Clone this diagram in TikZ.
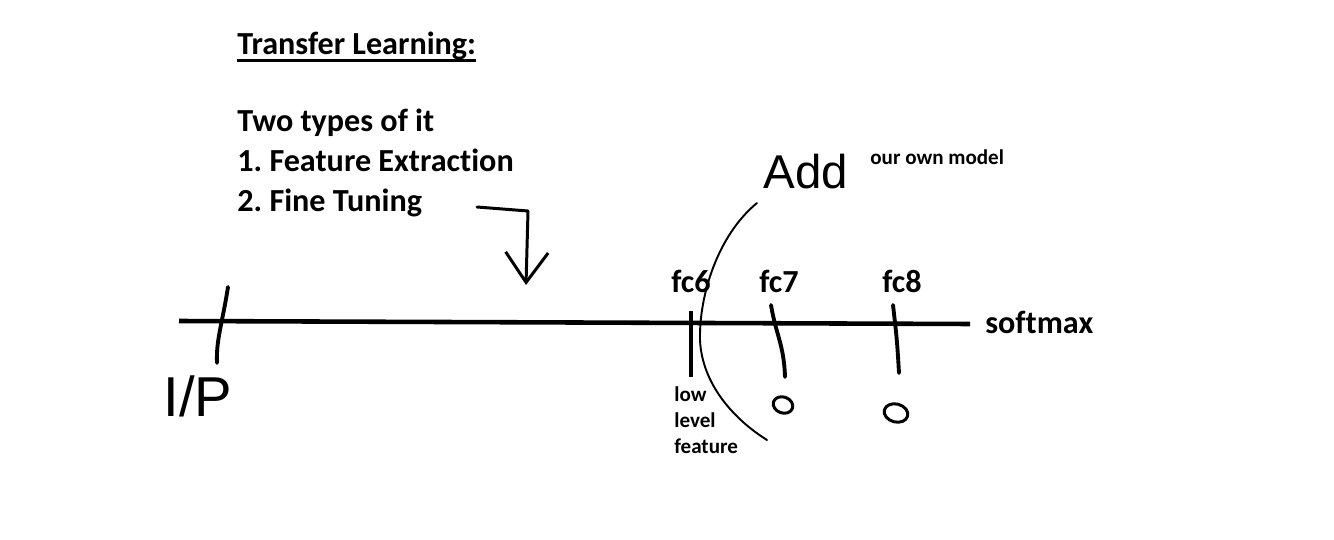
\documentclass[tikz,border=0pt]{standalone}
\usepackage{fontspec}
\setmainfont{Carlito}[Ligatures={NoCommon}]
\newfontfamily\handfont{Liberation Sans}
\usetikzlibrary{arrows.meta,positioning}
\frenchspacing

\begin{document}
\begin{tikzpicture}[x=0.02cm, y=-0.02cm,
  every node/.style={font=\bfseries\fontsize{18.3}{22}\selectfont, inner sep=0pt},
  smalltext/.style={font=\bfseries\fontsize{12}{14}\selectfont},
  handtext/.style={font=\handfont\fontsize{32}{36}\selectfont},
  axisline/.style={line width=2.6pt},
  pen/.style={line width=1.7pt, line cap=round, line join=round},
  thinpen/.style={line width=1.1pt, line cap=round}]
\useasboundingbox (0,0) rectangle (1334,540);
% heading and list
\node[anchor=base west] (title) at (237,55) {Transfer Learning:};
\draw[line width=1.6pt] (title.south west) -- (title.south east);
\node[anchor=base west] (types) at (237,132) {Two types of it};
\node[anchor=base west] (fe) at (237,172) {1. Feature Extraction};
\node[anchor=base west] (ft) at (237,212) {2. Fine Tuning};
% arrow down to the line
\coordinate (arrowS) at (477,207);
\coordinate (arrowE) at (526,285);
\draw[pen, -{Straight Barb[length=6mm, width=8.5mm]}] (arrowS) -- (528,211) -- (arrowE);
% the network as a line
\coordinate (lineL) at (179,321);
\coordinate (lineR) at (970,324);
\draw[axisline] (lineL) -- (lineR);
\node[anchor=base west] (softmax) at (985,333) {softmax};
\node[anchor=base] (fcsix) at (691,293) {fc6};
\node[anchor=base] (fcseven) at (779,293) {fc7};
\node[anchor=base] (fceight) at (902,293) {fc8};
% ticks
\draw[pen, line width=2.2pt] (228,287) .. controls (222,325) and (216,340) .. (217,363);
\draw[line width=2.3pt] (691,311) -- (691,377);
\draw[pen, line width=2.2pt] (771,305) .. controls (776,335) and (784,345) .. (785,377);
\draw[pen, line width=2.2pt] (893,305) .. controls (897,340) .. (899,373);
% zeros under fc7, fc8
\draw[pen, rotate around={-20:(783,405)}] (783,405) ellipse [x radius=10, y radius=8];
\draw[pen, rotate around={-15:(896,413)}] (896,413) ellipse [x radius=12, y radius=9];
% bracket for own model
\draw[thinpen] (757,203) .. controls (718,235) and (699,295) .. (700,340)
  .. controls (702,385) and (735,420) .. (767,440);
% handwritten notes
\node[handtext] (inp) at (198,396) {I/P};
\node[handtext, font=\handfont\fontsize{27}{30}\selectfont] (add) at (806,172) {Add};
\node[smalltext, anchor=base west] (ownmodel) at (870,165) {our own model};
\node[smalltext, anchor=base west] (lowlevel) at (674,401) {low};
\node[smalltext, anchor=base west] (level) at (674,427) {level};
\node[smalltext, anchor=base west] (feature) at (674,453) {feature};
\end{tikzpicture}
\end{document}
